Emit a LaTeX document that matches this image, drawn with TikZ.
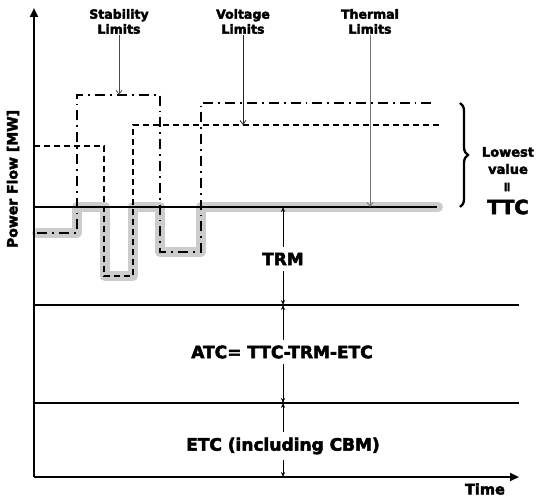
\documentclass[tikz,border=0pt]{standalone}
\usepackage{fontspec}
\setmainfont{DejaVu Sans}
\newfontfamily\heavy{DejaVu Sans Bold}[FakeBold=3]
\usetikzlibrary{arrows.meta,decorations.pathreplacing}
\begin{document}
\begin{tikzpicture}[x=1pt,y=-1pt,
  lbl/.style={font=\heavy\fontsize{12.5}{15}\selectfont, align=center, inner sep=1pt},
  band/.style={font=\heavy\fontsize{17}{20}\selectfont, fill=white, inner xsep=2pt, inner ysep=6pt},
  axisline/.style={line width=2.3pt, -{Triangle[length=9pt,width=8pt]}},
  level/.style={line width=1.8pt},
  envelope/.style={line width=10pt, color=black!20, line join=round, line cap=round},
  voltline/.style={line width=2pt, dash pattern=on 6pt off 4pt},
  stabline/.style={line width=2.2pt, dash pattern=on 10pt off 5pt on 1.8pt off 5pt},
  lblarrow/.style={line width=0.8pt, -{Straight Barb[length=4pt,width=6pt]}},
  gaparrow/.style={line width=0.7pt, {Stealth[length=5pt,width=4pt]}-{Stealth[length=5pt,width=4pt]}}
]
\useasboundingbox (0,0) rectangle (536,497);

% envelope (lowest value)
\draw[envelope] (37,233) -- (77,233) -- (77,207) -- (105,207) -- (105,276) -- (133,276)
  -- (133,207) -- (160,207) -- (160,252) -- (201,252) -- (201,207) -- (438,207);

% limit curves
\draw[voltline] (34,146) -- (104,146) -- (104,276) -- (133,276) -- (133,125) -- (440,125);
\draw[stabline] (37,233) -- (77,233) -- (77,95) -- (160,95) -- (160,252) -- (201,252)
  -- (201,103) -- (433,103);

% levels
\draw[level] (34,207) -- (437,207);
\draw[level] (34,305) -- (519,305);
\draw[level] (34,403) -- (519,403);

% axes
\coordinate (origin) at (34,477);
\coordinate (ytop) at (34,8);
\coordinate (xend) at (519,477);
\draw[axisline] (origin) -- (ytop);
\draw[axisline] (origin) -- (xend);

\node[font=\heavy\fontsize{14}{16}\selectfont, rotate=90] (ylab) at (13,179) {Power Flow [MW]};
\node[font=\heavy\fontsize{14.5}{16}\selectfont] (xlab) at (485,489) {Time};

% limit labels
\node[lbl] (stab) at (119,21.5) {Stability\\Limits};
\node[lbl] (volt) at (243,21.5) {Voltage\\Limits};
\node[lbl] (therm) at (370,21.5) {Thermal\\Limits};
\coordinate (stabtip) at (119,95);
\coordinate (volttip) at (243,125);
\coordinate (thermtip) at (370,207);
\draw[lblarrow, black!70] (stab.south) -- (stabtip);
\draw[lblarrow, black!85] (volt.south) -- (volttip);
\draw[lblarrow, black!55] (therm.south) -- (thermtip);

% brace
\coordinate (btop) at (460,103);
\coordinate (bbot) at (460,207);
\draw[line width=2.3pt, decorate, decoration={brace, amplitude=8pt}] (btop) -- (bbot);
\node[font=\heavy\fontsize{13}{15}\selectfont] (lowest) at (508,152) {Lowest};
\node[font=\heavy\fontsize{13}{15}\selectfont] (value) at (508,169) {value};
\node[font=\heavy\fontsize{13}{14}\selectfont, rotate=90] (eq) at (508,187) {=};
\node[font=\heavy\fontsize{19.5}{22}\selectfont] (ttc) at (508,207) {TTC};

% margin arrows
\coordinate (a1) at (283,207);
\coordinate (a2) at (283,305);
\coordinate (a3) at (283,403);
\coordinate (a4) at (283,477);
\draw[gaparrow] (a1) -- (a2);
\draw[gaparrow] (a2) -- (a3);
\draw[gaparrow] (a3) -- (a4);
\node[band] (trm) at (283,259) {TRM};
\node[band] (atc) at (282,352) {ATC= TTC-TRM-ETC};
\node[band] (etc) at (283,446) {ETC (including CBM)};
\end{tikzpicture}
\end{document}
